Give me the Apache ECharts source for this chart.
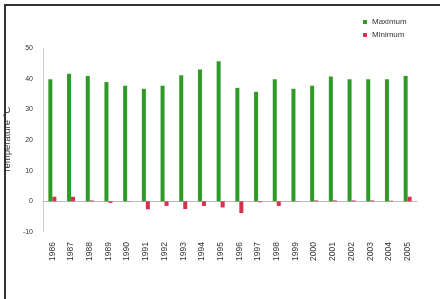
<!DOCTYPE html>
<html>
<head>
<meta charset="utf-8">
<script src="https://cdn.jsdelivr.net/npm/echarts@6/dist/echarts.min.js"></script>
<style>
  html, body { margin: 0; padding: 0; background: #fff; overflow: hidden; }
  #chart { width: 440px; height: 299px; }
</style>
</head>
<body>
<div id="chart"></div>
<script>
const years = ['1986', '1987', '1988', '1989', '1990', '1991', '1992', '1993', '1994', '1995',
  '1996', '1997', '1998', '1999', '2000', '2001', '2002', '2003', '2004', '2005'];
const maximum = [39.8, 41.6, 40.9, 38.9, 37.7, 36.7, 37.7, 41.1, 43.0, 45.7,
  37.0, 35.7, 39.8, 36.7, 37.7, 40.7, 39.8, 39.8, 39.8, 40.9];
const minimum = [1.5, 1.5, 0.3, -0.5, 0.1, -2.6, -1.5, -2.5, -1.5, -2.0,
  -3.8, -0.3, -1.5, 0.1, 0.3, 0.3, 0.3, 0.3, 0.2, 1.5];
const yTicks = [-10, 0, 10, 20, 30, 40, 50];

const chart = echarts.init(document.getElementById('chart'));

const option = {
  animation: false,
  textStyle: { fontFamily: 'Liberation Sans, Arial, sans-serif' },
  // frame: left and top edges only
  graphic: [
    { type: 'line', shape: { x1: 5, y1: 4, x2: 5, y2: 299 }, style: { stroke: '#333', lineWidth: 2 } },
    { type: 'line', shape: { x1: 4, y1: 5, x2: 440, y2: 5 }, style: { stroke: '#333', lineWidth: 2 } }
  ],
  legend: {
    orient: 'vertical',
    left: 358,
    top: 13,
    itemWidth: 4,
    itemHeight: 4,
    itemGap: 5,
    icon: 'rect',
    textStyle: { fontSize: 8, color: '#333' },
    data: ['Maximum', 'Minimum']
  },
  grid: { left: 43, right: 23, top: 48, bottom: 67, outerBoundsMode: 'none', containLabel: false },
  xAxis: [
    {
      type: 'category',
      data: years,
      axisLine: { show: false, onZero: false },
      axisTick: { show: false },
      axisLabel: { rotate: 90, fontSize: 8.5, color: '#333', margin: 10 }
    },
    {
      type: 'category',
      data: years,
      position: 'bottom',
      axisLine: { show: true, onZero: true, lineStyle: { color: '#bbb', width: 1 } },
      axisTick: { show: false },
      axisLabel: { show: false }
    }
  ],
  yAxis: {
    type: 'value',
    min: yTicks[0],
    max: yTicks[yTicks.length - 1],
    interval: 10,
    name: 'Temperature °C',
    nameLocation: 'middle',
    nameGap: 25,
    nameTextStyle: { fontSize: 9.5, color: '#333' },
    axisLine: { show: true, lineStyle: { color: '#ccc' } },
    axisTick: { show: false },
    splitLine: { show: false },
    axisLabel: { fontSize: 7, color: '#333', margin: 10 }
  },
  series: [
    {
      name: 'Maximum',
      type: 'bar',
      data: maximum,
      barWidth: 4,
      barGap: '0%',
      itemStyle: { color: '#2f9a25' }
    },
    {
      name: 'Minimum',
      type: 'bar',
      data: minimum,
      barWidth: 4,
      itemStyle: { color: '#d9304f' }
    }
  ]
};

chart.setOption(option);
</script>
</body>
</html>
